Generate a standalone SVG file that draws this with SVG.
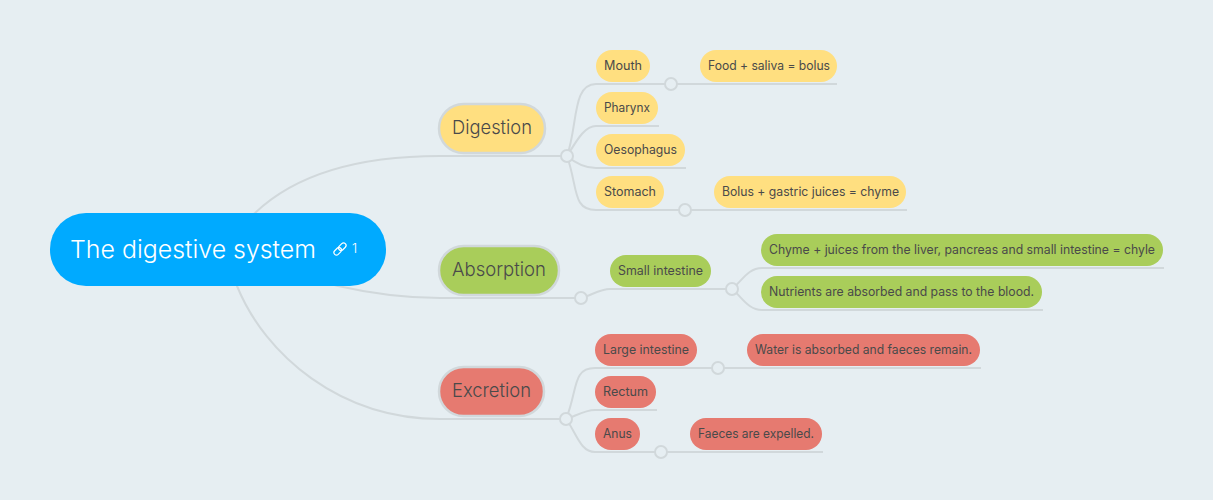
<svg xmlns="http://www.w3.org/2000/svg" width="1213" height="500" viewBox="0 0 1213 500">
<style>
.c{fill:none;stroke:#d1d8db;stroke-width:2}
.k{fill:#e6eef2;stroke:#d1d8db;stroke-width:2}
text{font-family:"Inter","Noto Sans","Liberation Sans",sans-serif;fill:#4a4a4a}
.t2{font-size:19px;font-weight:300}
.t3{font-size:12.500px}
.y{fill:#ffdf80}.g{fill:#a9cd5a}.r{fill:#e67a70}
.b{stroke:#d1d8db;stroke-width:2.5}
</style>
<rect width="1213" height="500" fill="#e6eef2"/>
<g id="connectors">
<path class="c" d="M245 222L255 213C300 170 370 156 440 156H567"/>
<path class="c" d="M320 281L338 286C360 291 400 298 440 298H581"/>
<path class="c" d="M232 275L237 286C265 355 340 419 440 419H566"/>
<path class="c" d="M567 156C578 125 572 84 596 84H837"/>
<path class="c" d="M567 156C576 142 584 126 596 126H659"/>
<path class="c" d="M567 156C574 162 584 168 596 168H686"/>
<path class="c" d="M567 156C578 187 572 210 596 210H907"/>
<path class="c" d="M581 298C590 296 600 289 610 289H732"/>
<path class="c" d="M732 289C742 281 748 268 762 268H1164"/>
<path class="c" d="M732 289C742 297 748 310 762 310H1043"/>
<path class="c" d="M566 419C578 390 572 368 595 368H981"/>
<path class="c" d="M566 419C574 417 584 410 595 410H657"/>
<path class="c" d="M566 419C576 432 580 452 595 452H823"/>
<circle class="k" cx="567" cy="156" r="6"/>
<circle class="k" cx="671" cy="84" r="6"/>
<circle class="k" cx="685" cy="210" r="6"/>
<circle class="k" cx="581" cy="298" r="6"/>
<circle class="k" cx="732" cy="289" r="6"/>
<circle class="k" cx="566" cy="419" r="6"/>
<circle class="k" cx="718" cy="368" r="6"/>
<circle class="k" cx="661" cy="452" r="6"/>
</g>
<g id="root">
<rect x="50" y="213" width="336" height="73" rx="36" fill="#00aaff"/>
<text x="70" y="258" font-size="24" font-weight="300" style="fill:#fff" textLength="246" lengthAdjust="spacingAndGlyphs">The digestive system</text>
<g fill="none" stroke="#fff" stroke-width="1.200" transform="rotate(-45 340 249)"><rect x="332.500" y="246.500" width="8.500" height="5" rx="2.500"/><rect x="339" y="246.500" width="8.500" height="5" rx="2.500"/></g>
<text x="352" y="253" font-size="13" font-weight="300" style="fill:#fff">1</text>
</g>
<g id="digestion"><rect class="y b" x="439" y="104" width="106" height="49" rx="24.500"/><text class="t2" x="452" y="134" textLength="80" lengthAdjust="spacingAndGlyphs">Digestion</text></g>
<g id="absorption"><rect class="g b" x="439" y="246" width="120" height="49" rx="24.500"/><text class="t2" x="452" y="276" textLength="94" lengthAdjust="spacingAndGlyphs">Absorption</text></g>
<g id="excretion"><rect class="r b" x="439" y="367" width="105" height="49" rx="24.500"/><text class="t2" x="452" y="397" textLength="79" lengthAdjust="spacingAndGlyphs">Excretion</text></g>
<g id="mouth"><rect class="y" x="596" y="50" width="54" height="32" rx="16"/><text class="t3" x="604" y="70" textLength="38" lengthAdjust="spacingAndGlyphs">Mouth</text></g>
<g id="food"><rect class="y" x="700" y="50" width="137" height="32" rx="16"/><text class="t3" x="708" y="70" textLength="122" lengthAdjust="spacingAndGlyphs">Food + saliva = bolus</text></g>
<g id="pharynx"><rect class="y" x="596" y="92" width="62" height="32" rx="16"/><text class="t3" x="604" y="112" textLength="46" lengthAdjust="spacingAndGlyphs">Pharynx</text></g>
<g id="oesophagus"><rect class="y" x="596" y="134" width="89" height="32" rx="16"/><text class="t3" x="604" y="154" textLength="73" lengthAdjust="spacingAndGlyphs">Oesophagus</text></g>
<g id="stomach"><rect class="y" x="596" y="176" width="68" height="32" rx="16"/><text class="t3" x="604" y="196" textLength="52" lengthAdjust="spacingAndGlyphs">Stomach</text></g>
<g id="bolus"><rect class="y" x="714" y="176" width="192" height="32" rx="16"/><text class="t3" x="722" y="196" textLength="177" lengthAdjust="spacingAndGlyphs">Bolus + gastric juices = chyme</text></g>
<g id="small-intestine"><rect class="g" x="610" y="255" width="101" height="32" rx="16"/><text class="t3" x="618" y="275" textLength="85" lengthAdjust="spacingAndGlyphs">Small intestine</text></g>
<g id="chyme"><rect class="g" x="761" y="234" width="402" height="32" rx="16"/><text class="t3" x="769" y="254" textLength="386" lengthAdjust="spacingAndGlyphs">Chyme + juices from the liver, pancreas and small intestine = chyle</text></g>
<g id="nutrients"><rect class="g" x="761" y="276" width="281" height="32" rx="16"/><text class="t3" x="769" y="296" textLength="265" lengthAdjust="spacingAndGlyphs">Nutrients are absorbed and pass to the blood.</text></g>
<g id="large-intestine"><rect class="r" x="595" y="334" width="102" height="32" rx="16"/><text class="t3" x="603" y="354" textLength="86" lengthAdjust="spacingAndGlyphs">Large intestine</text></g>
<g id="water"><rect class="r" x="747" y="334" width="233" height="32" rx="16"/><text class="t3" x="755" y="354" textLength="217" lengthAdjust="spacingAndGlyphs">Water is absorbed and faeces remain.</text></g>
<g id="rectum"><rect class="r" x="595" y="376" width="61" height="32" rx="16"/><text class="t3" x="603" y="396" textLength="45" lengthAdjust="spacingAndGlyphs">Rectum</text></g>
<g id="anus"><rect class="r" x="595" y="418" width="45" height="32" rx="16"/><text class="t3" x="603" y="438" textLength="29" lengthAdjust="spacingAndGlyphs">Anus</text></g>
<g id="faeces"><rect class="r" x="690" y="418" width="132" height="32" rx="16"/><text class="t3" x="698" y="438" textLength="116" lengthAdjust="spacingAndGlyphs">Faeces are expelled.</text></g>
</svg>
